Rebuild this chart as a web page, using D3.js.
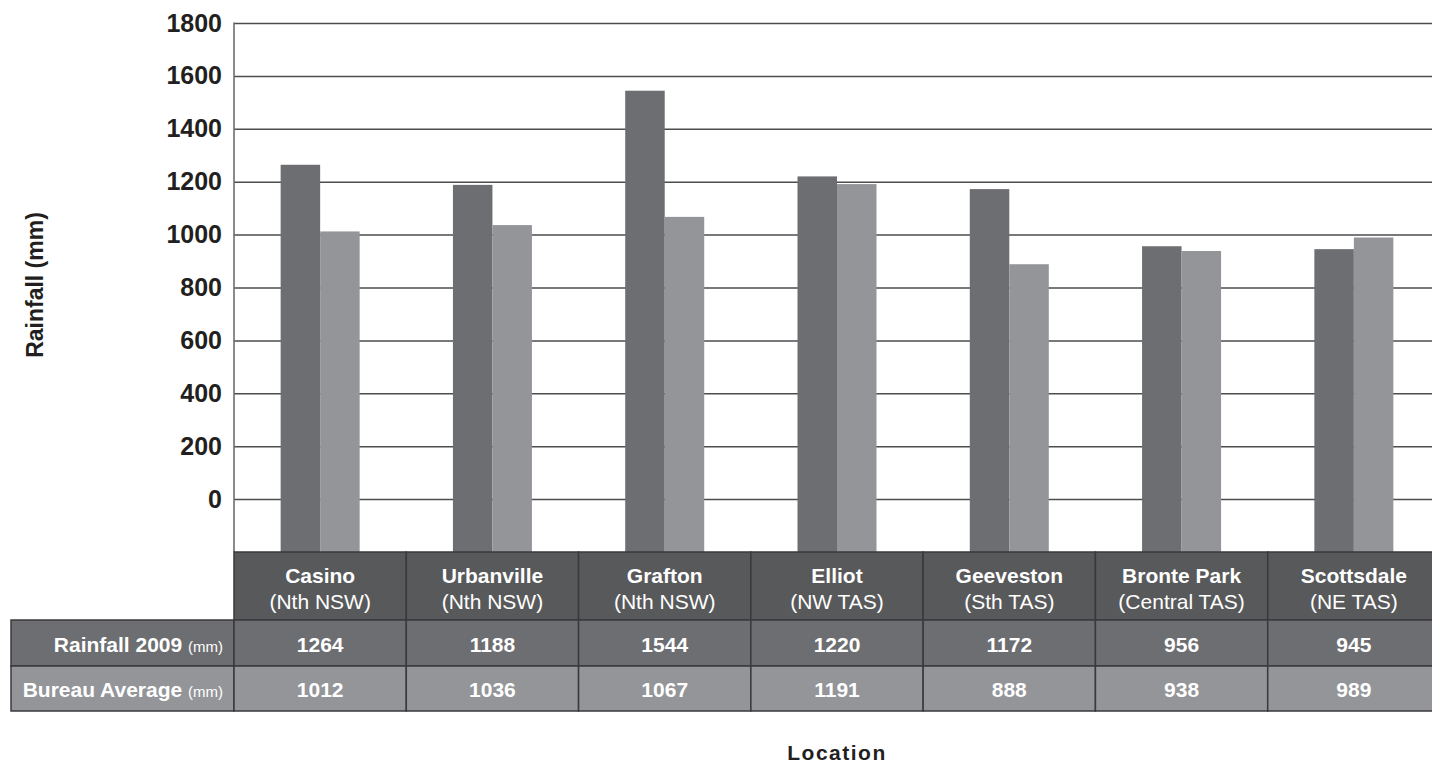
<!DOCTYPE html>
<html><head><meta charset="utf-8">
<script src="https://cdn.jsdelivr.net/npm/d3@7/dist/d3.min.js"></script>
<style>
html,body{margin:0;padding:0;background:#fff;}
svg{display:block;}
text{font-family:"Liberation Sans",Arial,Helvetica,sans-serif;}
</style></head>
<body>
<svg id="chart" width="1432" height="765"></svg>
<script>
const locations = ["Casino","Urbanville","Grafton","Elliot","Geeveston","Bronte Park","Scottsdale"];
const regions = ["(Nth NSW)","(Nth NSW)","(Nth NSW)","(NW TAS)","(Sth TAS)","(Central TAS)","(NE TAS)"];
const rainfall2009 = [1264,1188,1544,1220,1172,956,945];
const bureauAverage = [1012,1036,1067,1191,888,938,989];
const yTicks = [0,200,400,600,800,1000,1200,1400,1600,1800];
const seriesNames = ["Rainfall 2009","Bureau Average"];

const svg = d3.select("#chart");
const dark = "#6d6e71", light = "#939598", header = "#58595b", border = "#3a3a3c", txt = "#231f20";

const plotLeft = 234, plotRight = 1440, plotTop = 23, plotBottom = 552;
const y = d3.scaleLinear().domain([-200,1800]).range([plotBottom, plotTop]);
const x = d3.scaleBand().domain(locations).range([plotLeft, plotRight]).padding(0);
const barW = 39.5;
const sub = d3.scaleBand().domain(seriesNames).range([0, barW*2]);

// gridlines
const yAxis = d3.axisLeft(y).tickValues(yTicks).tickSize(-(plotRight-plotLeft)).tickPadding(12).tickFormat(d3.format("d"));
const gA = svg.append("g").attr("transform",`translate(${plotLeft},0)`).call(yAxis);
gA.select(".domain").remove();
gA.selectAll(".tick line").attr("stroke","#4d4d4f").attr("stroke-width",1.5);
gA.selectAll(".tick text").attr("fill",txt).style("font-size","25px").style("font-weight","bold");
// axis line
svg.append("line").attr("x1",plotLeft).attr("x2",plotLeft).attr("y1",plotTop-0.5).attr("y2",plotBottom)
  .attr("stroke","#6d6e71").attr("stroke-width",1.6);

// bars
const data = locations.map((loc,i)=>({loc, vals:[{s:seriesNames[0],v:rainfall2009[i]},{s:seriesNames[1],v:bureauAverage[i]}]}));
const g = svg.append("g");
data.forEach(d=>{
  const cx = x(d.loc) + x.bandwidth()/2 - barW;
  g.selectAll(null).data(d.vals).enter().append("rect")
    .attr("x", e=>cx + sub(e.s))
    .attr("width", sub.bandwidth())
    .attr("y", e=>y(e.v))
    .attr("height", e=>plotBottom - y(e.v))
    .attr("fill", (e,j)=> j===0?dark:light);
});

// table
const rowH = [plotBottom, 620, 666, 711];
const tLeft = 11;
const t = svg.append("g");
locations.forEach((loc,i)=>{
  t.append("rect").attr("x",x(loc)).attr("y",rowH[0]).attr("width",x.bandwidth()).attr("height",rowH[1]-rowH[0])
    .attr("fill",header).attr("stroke",border).attr("stroke-width",1.5);
  t.append("text").attr("x",x(loc)+x.bandwidth()/2).attr("y",583).attr("text-anchor","middle")
    .attr("fill","#fff").style("font-size","21px").style("font-weight","bold").text(loc);
  t.append("text").attr("x",x(loc)+x.bandwidth()/2).attr("y",609).attr("text-anchor","middle")
    .attr("fill","#fff").style("font-size","21px").style("font-weight","normal").text(regions[i]);
});
const rows = [{name:seriesNames[0], vals:rainfall2009, fill:dark, base:652},{name:seriesNames[1], vals:bureauAverage, fill:light, base:697}];
rows.forEach((r,ri)=>{
  t.append("rect").attr("x",tLeft).attr("y",rowH[ri+1]).attr("width",plotLeft-tLeft).attr("height",rowH[ri+2]-rowH[ri+1])
    .attr("fill",r.fill).attr("stroke",border).attr("stroke-width",1.5);
  const lab = t.append("text").attr("x",plotLeft-11).attr("y",r.base).attr("text-anchor","end").attr("fill","#fff")
    .style("font-size","21px").style("font-weight","bold");
  lab.append("tspan").text(r.name+" ");
  lab.append("tspan").style("font-size","15px").style("font-weight","normal").text("(mm)");
  locations.forEach((loc,i)=>{
    t.append("rect").attr("x",x(loc)).attr("y",rowH[ri+1]).attr("width",x.bandwidth()).attr("height",rowH[ri+2]-rowH[ri+1])
      .attr("fill",r.fill).attr("stroke",border).attr("stroke-width",1.5);
    t.append("text").attr("x",x(loc)+x.bandwidth()/2).attr("y",r.base).attr("text-anchor","middle")
      .attr("fill","#fff").style("font-size","21px").style("font-weight","bold").text(r.vals[i]);
  });
});

// axis titles
svg.append("text").attr("transform","translate(43,285) rotate(-90)").attr("text-anchor","middle")
  .attr("fill",txt).style("font-size","23px").style("font-weight","bold").text("Rainfall (mm)");
svg.append("text").attr("x",(plotLeft+plotRight)/2).attr("y",760).attr("text-anchor","middle")
  .attr("fill",txt).style("font-size","21px").style("font-weight","bold").style("letter-spacing","1.5px").text("Location");
</script>
</body></html>
